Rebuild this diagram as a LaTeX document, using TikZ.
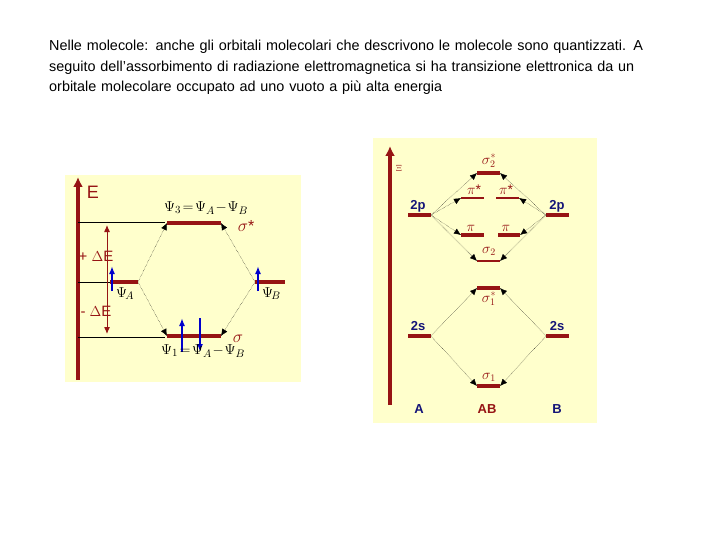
\documentclass[tikz,border=0pt]{standalone}
\usepackage{fontspec}
\setmainfont{Liberation Sans}
\usetikzlibrary{arrows.meta}
\definecolor{bgy}{RGB}{255,255,204}
\definecolor{dred}{RGB}{150,20,20}
\definecolor{dblue}{RGB}{20,20,120}
\begin{document}
\begin{tikzpicture}[x=1pt,y=-1pt]
% Node styles ---
\tikzstyle{lev} = [draw = dred, line width = 3.5pt] % Energy levels
\tikzstyle{thin} = [draw = dred, line width = 1.5pt] % Thin levels
\tikzstyle{mo} = [text = dred, font = \fontsize{14}{14}\selectfont] % Orbital labels
\tikzstyle{ao} = [text = dblue, font = \fontsize{13}{13}\selectfont\bfseries] % Atomic labels
\tikzstyle{con} = [-{Latex[length=7pt,width=6pt]}, densely dotted, black] % Correlations
\tikzstyle{spin} = [-{Latex[length=8pt,width=6pt]}, draw = blue!80!black, line width = 2.2pt] % Electrons
\useasboundingbox (0,0) rectangle (720,540);
\fill[white] (0,0) rectangle (720,540);
% Text ---
\node[anchor = north west, text width = 640pt, inner sep = 0pt, font = \fontsize{14.4}{20.5}\selectfont, align = left] (txt) at (49,40) {Nelle molecole: anche gli orbitali molecolari che descrivono le molecole sono quantizzati. A\\ seguito dell'assorbimento di radiazione elettromagnetica si ha transizione elettronica da un\\ orbitale molecolare occupato ad uno vuoto a più alta energia};
% Left panel ---
\fill[bgy] (65,175) rectangle (301,382);
\draw[dred, line width = 3.5pt, -{Latex[length=10pt,width=10pt]}] (78,380) -- (78,177);
\node[text = dred, font = \fontsize{18}{18}\selectfont] (eL) at (93,192) {E};
\draw (78,222) -- (165,222);
\draw (78,282) -- (110,282);
\draw (78,337) -- (165,337);
\draw[dred, line width = 1pt, {Latex[length=7pt,width=6pt]}-{Latex[length=7pt,width=6pt]}] (107,225) -- (107,334);
\node[text = dred, font = \fontsize{15}{15}\selectfont] (dp) at (96,256) {+ $\Delta$E};
\node[text = dred, font = \fontsize{15}{15}\selectfont] (dm) at (96,311) {- $\Delta$E};
\coordinate (a1) at (110,282); \coordinate (a2) at (138,282);
\coordinate (b1) at (255,282); \coordinate (b2) at (285,282);
\coordinate (s1) at (167,223); \coordinate (s2) at (221,223);
\coordinate (t1) at (167,336); \coordinate (t2) at (221,336);
\draw[lev] (a1) -- (a2);
\draw[lev] (b1) -- (b2);
\draw[lev] (s1) -- (s2);
\draw[lev] (t1) -- (t2);
\draw[spin] (112,291) -- (112,266);
\draw[spin] (258,291) -- (258,266);
\draw[spin] (182,352) -- (182,318);
\draw[spin] (200,318) -- (200,352);
\node[font = \fontsize{15}{15}\selectfont, anchor = north west, inner sep = 1pt] (pa) at (115,286) {$\Psi_{\!A}$};
\node[font = \fontsize{15}{15}\selectfont, anchor = north west, inner sep = 1pt] (pb) at (261,286) {$\Psi_{\!B}$};
\node[font = \fontsize{15}{15}\selectfont] (p3) at (206,208) {$\Psi_3\!=\!\Psi_A\!-\!\Psi_B$};
\node[font = \fontsize{15}{15}\selectfont] (p1) at (203,351) {$\Psi_1\!=\!\Psi_A\!-\!\Psi_B$};
\node[text = dred, font = \fontsize{16}{16}\selectfont] (ss) at (246,226) {$\sigma$*};
\node[text = dred, font = \fontsize{16}{16}\selectfont] (sg) at (238,339) {$\sigma$};
\draw[con] (a2) -- (s1);
\draw[con] (a2) -- (t1);
\draw[con] (b1) -- (s2);
\draw[con] (b1) -- (t2);
% Right panel ---
\fill[bgy] (373,138) rectangle (597,423);
\draw[dred, line width = 3.5pt, -{Latex[length=10pt,width=10pt]}] (390,405) -- (390,146);
\node[text = dred, font = \small] (eR) at (399,168) {$\Xi$};
\coordinate (pA1) at (408,215); \coordinate (pA2) at (431,215);
\coordinate (pB1) at (546,215); \coordinate (pB2) at (569,215);
\coordinate (sA1) at (408,336); \coordinate (sA2) at (431,336);
\coordinate (sB1) at (546,336); \coordinate (sB2) at (569,336);
\draw[lev] (pA1) -- (pA2); \draw[lev] (pB1) -- (pB2);
\draw[lev] (sA1) -- (sA2); \draw[lev] (sB1) -- (sB2);
\node[ao] (l2pA) at (418,206) {2p};
\node[ao] (l2pB) at (557,206) {2p};
\node[ao] (l2sA) at (418,326) {2s};
\node[ao] (l2sB) at (557,326) {2s};
\coordinate (x1) at (477,173); \coordinate (x2) at (500,173);
\coordinate (y1) at (461,198); \coordinate (y2) at (484,198);
\coordinate (y3) at (496,198); \coordinate (y4) at (519,198);
\coordinate (z1) at (461,235); \coordinate (z2) at (484,235);
\coordinate (z3) at (498,235); \coordinate (z4) at (520,235);
\coordinate (w1) at (477,261); \coordinate (w2) at (500,261);
\coordinate (u1) at (477,288); \coordinate (u2) at (500,288);
\coordinate (v1) at (477,386); \coordinate (v2) at (500,386);
\draw[lev] (x1) -- (x2);
\draw[thin] (y1) -- (y2); \draw[thin] (y3) -- (y4);
\draw[lev] (z1) -- (z2); \draw[lev] (z3) -- (z4);
\draw[thin] (w1) -- (w2);
\draw[lev] (u1) -- (u2);
\draw[lev] (v1) -- (v2);
\node[mo] (lx) at (489,161) {$\sigma_2^*$};
\node[mo] (ly1) at (474,190) {$\pi$*};
\node[mo] (ly2) at (506,190) {$\pi$*};
\node[mo] (lz1) at (471,228) {$\pi$};
\node[mo] (lz2) at (506,228) {$\pi$};
\node[mo] (lw) at (489,251) {$\sigma_2$};
\node[mo] (lu) at (489,299) {$\sigma_1^*$};
\node[mo] (lv) at (489,377) {$\sigma_1$};
\node[ao] (lA) at (419,409) {A};
\node[text = dred, font = \fontsize{13}{13}\selectfont\bfseries] (lAB) at (487,409) {AB};
\node[ao] (lB) at (557,409) {B};
\foreach \t in {x1, y1, z1, w1} \draw[con] (pA2) -- (\t);
\foreach \t in {x2, y4, z4, w2} \draw[con] (pB1) -- (\t);
\draw[con] (sA2) -- (u1);
\draw[con] (sA2) -- (v1);
\draw[con] (sB1) -- (u2);
\draw[con] (sB1) -- (v2);
\end{tikzpicture}
\end{document}
